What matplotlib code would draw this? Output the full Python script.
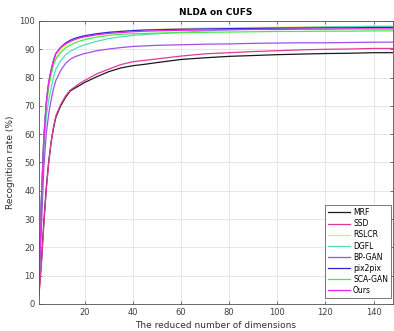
import matplotlib
matplotlib.use("Agg")
import matplotlib.pyplot as plt

# ── data: recognition rate (%) vs. reduced dimension ─────────────────────────
dims = [1, 2, 3, 4, 5, 6, 7, 8, 10, 12, 14, 16, 18, 20, 25, 30, 35, 40, 45, 50,
        60, 70, 80, 90, 100, 110, 120, 130, 140, 148]

mrf = [4, 15, 29, 41, 50, 57, 62, 66, 70, 73, 75.3, 76.3, 77.3, 78.3, 80.3,
       82.1, 83.4, 84.2, 84.7, 85.3, 86.4, 87.0, 87.5, 87.8, 88.1, 88.3, 88.5,
       88.6, 88.8, 88.8]
ssd = [3, 14, 28, 40, 49.5, 57, 62.5, 66.5, 70.5, 73.5, 75.6, 76.8, 78, 79,
       81.3, 83, 84.6, 85.6, 86.1, 86.6, 87.6, 88.4, 88.8, 89.2, 89.5, 89.8,
       90, 90.1, 90.3, 90.3]
rslcr = [5, 34, 56, 69, 76, 81, 84.5, 87, 89.8, 91.5, 92.7, 93.5, 94.1, 94.6,
         95.4, 96, 96.4, 96.7, 96.9, 97.1, 97.3, 97.5, 97.6, 97.7, 97.8, 97.9,
         98, 98, 98.1, 98.1]
dgfl = [9, 35, 55, 66, 72, 76, 80, 83, 86, 88, 89.3, 90.2, 91, 91.6, 92.8,
        93.8, 94.4, 94.9, 95.2, 95.5, 96, 96.5, 96.9, 97.2, 97.5, 97.7, 97.9,
        98, 98.1, 98.1]
bpgan = [5, 27, 48, 60, 67, 72, 76, 79, 82.5, 85, 86.5, 87.4, 88, 88.5, 89.5,
         90.1, 90.6, 91, 91.2, 91.4, 91.6, 91.8, 91.9, 92.1, 92.2, 92.3, 92.3,
         92.4, 92.5, 92.5]
pix2pix = [8, 38, 59, 71, 78, 82.5, 86, 88.5, 90.7, 92.2, 93.2, 93.9, 94.4,
           94.8, 95.5, 96, 96.3, 96.6, 96.8, 96.9, 97.1, 97.2, 97.3, 97.4, 97.5,
           97.5, 97.6, 97.6, 97.7, 97.7]
scagan = [6, 36, 58, 70, 77, 81, 84.5, 86.5, 88.8, 90.5, 91.5, 92.3, 92.9,
          93.4, 94.3, 94.9, 95.3, 95.5, 95.6, 95.7, 95.9, 96, 96.1, 96.2, 96.3,
          96.3, 96.4, 96.4, 96.5, 96.5]
ours = [4, 36, 58, 71, 78.5, 82.5, 86, 88.5, 90.6, 91.9, 92.8, 93.5, 94, 94.4,
        95.1, 95.6, 95.9, 96.2, 96.4, 96.5, 96.7, 96.8, 96.9, 97, 97, 97.1,
        97.1, 97.2, 97.2, 97.2]

methods = ["MRF", "SSD", "RSLCR", "DGFL", "BP-GAN", "pix2pix", "SCA-GAN", "Ours"]
series = [mrf, ssd, rslcr, dgfl, bpgan, pix2pix, scagan, ours]
colors = ["#1a1a1a", "#e2389a", "#f0e060", "#50dcc0", "#a050e8", "#2828d8",
          "#40f040", "#ee22ee"]

x_ticks = [20, 40, 60, 80, 100, 120, 140]
y_ticks = list(range(0, 101, 10))

# ── figure ───────────────────────────────────────────────────────────────────
fig = plt.figure(figsize=(3.94, 3.31), dpi=100)
ax = fig.add_axes([0.099, 0.0816, 0.898, 0.855])

for name, vals, c in zip(methods, series, colors):
    ax.plot(dims, vals, color=c, lw=0.9, label=name)

ax.set_xlim(1, 148)
ax.set_ylim(0, 100)
ax.set_xticks(x_ticks)
ax.set_yticks(y_ticks)
ax.grid(True, color="#e3e3e3", lw=0.6)
ax.set_axisbelow(True)
ax.tick_params(direction="in", length=2.5, width=0.5, top=True, right=True,
               labelsize=6, colors="#404040", pad=3)
for s in ax.spines.values():
    s.set_color("#505050")
    s.set_linewidth(0.6)

ax.set_title("NLDA on CUFS", fontsize=6.5, fontweight="bold", pad=4)
ax.set_xlabel("The reduced number of dimensions", fontsize=6.5,
              color="#303030", labelpad=3)
ax.set_ylabel("Recognition rate (%)", fontsize=6.5, color="#303030",
              labelpad=3)

leg = ax.legend(loc="lower right", bbox_to_anchor=(0.994, 0.022),
                fontsize=5.5, frameon=True, fancybox=False, framealpha=1,
                edgecolor="#606060", handlelength=2.9, handletextpad=0.4,
                labelspacing=0.28, borderpad=0.35, borderaxespad=0)
leg.get_frame().set_linewidth(0.6)

fig.savefig("out.png", dpi=100)
